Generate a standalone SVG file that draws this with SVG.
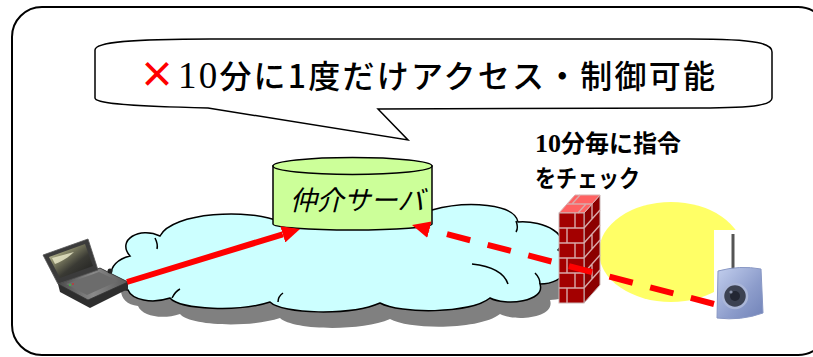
<svg xmlns="http://www.w3.org/2000/svg" width="813" height="357" viewBox="0 0 813 357">
  <defs>
    <style>
      .frame { fill: #ffffff; stroke: #000000; stroke-width: 2; }
      .outline { stroke: #000000; stroke-width: 1.5; }
      .jp { font-family: "Noto Sans CJK JP", "Noto Sans", sans-serif; }
      .serif { font-family: "Liberation Serif", "Times New Roman", serif; }
      .mortar { stroke: #d9a9a9; stroke-width: 1.4; fill: none; }
      .hook { fill: none; stroke: #000000; stroke-width: 1.5; }
    </style>
    <marker id="head" viewBox="0 0 18 17" markerUnits="userSpaceOnUse" markerWidth="18" markerHeight="17" refX="0" refY="8.5" orient="auto">
      <path d="M0,0 L18,8.5 L0,17 Z" fill="#ff0000"/>
    </marker>
    <linearGradient id="screenGrad" x1="0" y1="0" x2="1" y2="1">
      <stop offset="0" stop-color="#f0eec4"/>
      <stop offset="0.3" stop-color="#8a8a6a"/>
      <stop offset="0.6" stop-color="#3a3a34"/>
      <stop offset="1" stop-color="#1c1c1c"/>
    </linearGradient>
    <linearGradient id="deckGrad" x1="0" y1="0" x2="1" y2="0">
      <stop offset="0" stop-color="#4a4a4a"/>
      <stop offset="0.5" stop-color="#8a8a8a"/>
      <stop offset="1" stop-color="#5a5a5a"/>
    </linearGradient>
    <linearGradient id="camGrad" x1="0" y1="0" x2="1" y2="1">
      <stop offset="0" stop-color="#c3cfee"/>
      <stop offset="0.6" stop-color="#8c9ccb"/>
      <stop offset="1" stop-color="#7183b8"/>
    </linearGradient>
    <path id="cloudShape" d="M128,290 C106,288 104,262 130,256 C116,240 140,226 160,236 C172,212 250,208 280,222 C300,204 400,198 432,210 C468,200 515,204 518,222 C545,220 572,236 558,250 C576,262 566,284 540,284 C546,302 505,306 490,298 C470,314 400,314 380,303 C350,316 282,314 270,302 C240,312 180,310 170,298 C152,304 132,300 128,290 Z"/>
  </defs>

  <!-- outer frame -->
  <rect class="frame" x="12" y="7" width="816" height="348" rx="30" ry="30"/>

  <!-- speech bubble -->
  <g id="bubble">
    <path class="outline" fill="#ffffff" d="M95,50 C95,42 130,39 210,39 L690,39 C760,39 772,44 772,52 L772,98 C772,104 760,108 700,108 L378,109 L408,140 L208,108 C120,106 95,103 95,98 Z"/>
    <text class="jp" x="157" y="88" font-size="36" font-weight="bold" fill="#ff0000" text-anchor="middle">×</text>
    <text class="jp" x="178" y="88" font-size="32" font-weight="500" fill="#000000" textLength="537" lengthAdjust="spacing"><tspan class="serif" font-size="37" font-weight="normal">10</tspan>分に1度だけアクセス・制御可能</text>
  </g>

  <!-- network cloud -->
  <g id="cloud">
    <use href="#cloudShape" transform="translate(10,16)" fill="#808080"/>
    <use href="#cloudShape" fill="#ccffff" stroke="#000000" stroke-width="1.5"/>
    <path class="hook" d="M155,238 C157,242 158,245 157,249"/>
    <path class="hook" d="M516,221 C518,226 518,229 516,232"/>
    <path class="hook" d="M472,264 C490,266 504,272 508,284"/>
    <path class="hook" d="M540,284 C540,280 538,276 535,273"/>
    <path class="hook" d="M172,298 C174,294 176,291 180,289"/>
    <path class="hook" d="M278,302 C278,298 280,295 283,293"/>
  </g>

  <!-- yellow area around the camera -->
  <ellipse cx="671" cy="252" rx="72" ry="50" fill="#ffff66"/>

  <!-- firewall -->
  <g id="firewall">
    <polygon points="584,213 600,195 600,285 584,303" fill="#8c0000" stroke="#c9b6b6" stroke-width="1"/>
    <polygon points="559,213 575,195 600,195 584,213" fill="#ff6262" stroke="#d9b0b0" stroke-width="1"/>
    <rect x="559" y="213" width="25" height="90" fill="#a30000" stroke="#c9b6b6" stroke-width="1"/>
    <path class="mortar" d="M559,228 H584 M559,243 H584 M559,258 H584 M559,273 H584 M559,288 H584
      M575,213 V228 M567,228 V243 M575,243 V258 M567,258 V273 M575,273 V288 M567,288 V303"/>
    <path class="mortar" d="M584,228 L600,210 M584,243 L600,225 M584,258 L600,240 M584,273 L600,255 M584,288 L600,270
      M592,204 V219 M592,234 V249 M592,264 V279"/>
    <path class="mortar" d="M567,204 H592 M580,195 L572,204 M586,204 L578,213"/>
  </g>

  <!-- broker server -->
  <g id="server">
    <path class="outline" fill="#ccff99" d="M273,166 L273,224 A79.5,6 0 0 0 432,224 L432,166 Z"/>
    <ellipse class="outline" cx="352.5" cy="166" rx="79.5" ry="8.5" fill="#ccff99"/>
    <text class="jp" x="357" y="210" font-size="27" font-style="italic" text-anchor="middle" fill="#000000">仲介サーバ</text>
  </g>

  <!-- laptop -->
  <g id="laptop">
    <polygon points="58,284 100,268 128,282 128,289 90,308 60,292" fill="#2e2e2e"/>
    <polygon points="58,284 100,268 128,282 88,300" fill="url(#deckGrad)" stroke="#333333" stroke-width="0.8"/>
    <polygon points="66,284 99,272 118,281 87,295" fill="#6c6c6c"/>
    <polygon points="43,255 88,239 98,270 58,284" fill="#3b3b3b" stroke="#555555" stroke-width="0.8"/>
    <polygon points="49,257 85,244 93,266 60,278" fill="url(#screenGrad)"/>
    <path d="M52,258 L74,252 C68,258 60,262 55,264 Z" fill="#eeeccc" opacity="0.8"/>
    <circle cx="110" cy="271" r="2.5" fill="#222222"/>
    <circle cx="70" cy="285" r="0.9" fill="#33cc33"/>
    <circle cx="73" cy="284" r="0.9" fill="#cc3333"/>
  </g>

  <!-- camera -->
  <g id="camera">
    <rect x="714" y="230" width="51" height="91" fill="#ffffff"/>
    <line x1="733" y1="234" x2="733" y2="280" stroke="#555555" stroke-width="3"/>
    <path d="M718,271 Q740,265 761,269 L763,313 Q741,321 717,318 Z" fill="url(#camGrad)" stroke="#8897c4" stroke-width="1"/>
    <circle cx="735" cy="296" r="12" fill="#3c4252" stroke="#aab6d8" stroke-width="2.5"/>
    <circle cx="735" cy="296" r="5" fill="#232733"/>
    <circle cx="731" cy="292" r="1.6" fill="#8a93aa"/>
  </g>

  <!-- connectors -->
  <g id="connectors" fill="none" stroke="#ff0000" stroke-width="6">
    <line x1="127" y1="282" x2="282.8" y2="234.3" marker-end="url(#head)"/>
    <line x1="714" y1="304" x2="429.4" y2="229.6" stroke-dasharray="24 18" marker-end="url(#head)"/>
  </g>

  <!-- polling note -->
  <g id="note" font-weight="bold" fill="#000000">
    <text class="jp" x="535" y="152" font-size="24"><tspan class="serif" font-size="26">10</tspan>分毎に指令</text>
    <text class="jp" x="535" y="187" font-size="24" textLength="105" lengthAdjust="spacingAndGlyphs">をチェック</text>
  </g>
</svg>
